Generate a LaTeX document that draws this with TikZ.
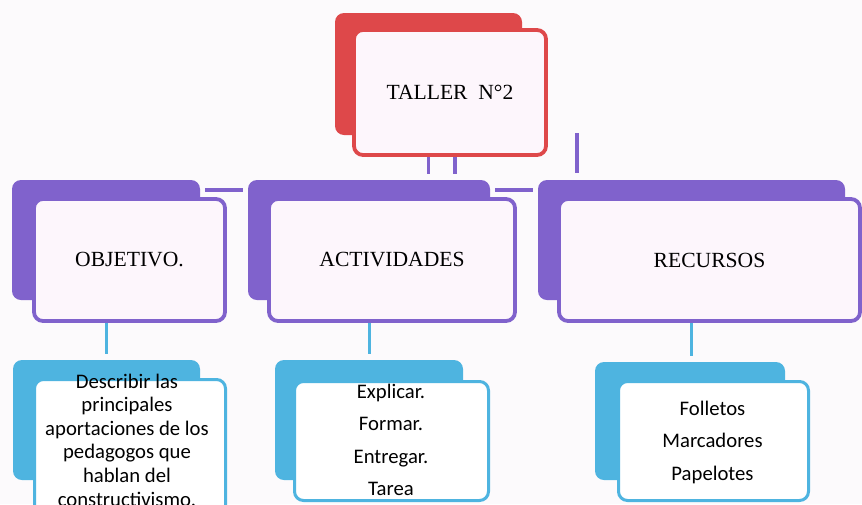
\documentclass[tikz,border=0pt]{standalone}
\usepackage{fontspec}
\setmainfont{Liberation Serif}
\newfontfamily\bodyfont{Carlito}
\definecolor{redc}{RGB}{222,72,74}
\definecolor{purc}{RGB}{128,98,204}
\definecolor{cyac}{RGB}{78,180,224}
\definecolor{frontc}{RGB}{253,246,252}
\definecolor{bgc}{RGB}{252,250,252}
\begin{document}
\begin{tikzpicture}[x=1pt,y=-1pt,
  backbox/.style={fill=#1, draw=none, rounded corners=9pt, inner sep=0pt},
  frontbox/.style={fill=frontc, draw=#1, line width=3.8pt, rounded corners=9pt, inner sep=0pt,
     font=\fontsize{21.6}{25}\selectfont},
  childbox/.style={fill=white, draw=cyac, line width=3pt, rounded corners=9pt, inner sep=0pt},
  childtext/.style={align=center, inner sep=0pt, font=\bodyfont\fontsize{20.7}{#1}\selectfont},
  purline/.style={draw=purc, line width=3.5pt},
  cyaline/.style={draw=cyac, line width=3pt}]
\useasboundingbox[fill=bgc] (0,0) rectangle (862,504);

% back boxes
\node[backbox=redc, minimum width=187pt, minimum height=122pt] (topback) at (428.5,74) {};
\node[backbox=purc, minimum width=188pt, minimum height=120pt] (objback) at (106,240) {};
\node[backbox=purc, minimum width=242pt, minimum height=120pt] (actback) at (369,240) {};
\node[backbox=purc, minimum width=307pt, minimum height=120pt] (recback) at (691.5,240) {};
\node[backbox=cyac, minimum width=187pt, minimum height=120pt] (ochback) at (106.5,420) {};
\node[backbox=cyac, minimum width=188pt, minimum height=120pt] (achback) at (369,420) {};
\node[backbox=cyac, minimum width=190pt, minimum height=118pt] (rchback) at (690,421) {};

% connectors
\coordinate (c1) at (455,174);
\coordinate (c1t) at (455,150);
\coordinate (c2t) at (577,133);
\coordinate (c2) at (577,173);
\draw[purline, shorten >=6pt] (topback.south) -- (topback.south |- actback.north);
\draw[purline] (c1t) -- (c1);
\draw[purline] (c2t) -- (c2);
\draw[purline, shorten <=5pt, shorten >=5pt] ([yshift=-10pt]objback.north east) -- ([yshift=-10pt]actback.north west);
\draw[purline, shorten <=5pt, shorten >=5pt] ([yshift=-10pt]actback.north east) -- ([yshift=-10pt]recback.north west);
\draw[cyaline, shorten >=6pt] (objback.south) -- (objback.south |- ochback.north);
\draw[cyaline, shorten >=6pt] (actback.south) -- (actback.south |- achback.north);
\draw[cyaline, shorten >=6pt] (recback.south) -- (recback.south |- rchback.north);

% front boxes
\node[frontbox=redc, minimum width=192pt, minimum height=125pt] (topfront) at (450,92.5) {TALLER\ \ N°2};
\node[frontbox=purc, minimum width=191pt, minimum height=122pt] (objfront) at (129.5,260) {OBJETIVO.};
\node[frontbox=purc, minimum width=246pt, minimum height=122pt] (actfront) at (392,260) {ACTIVIDADES};
\node[frontbox=purc, minimum width=301pt, minimum height=122pt] (recfront) at (709.5,260) {RECURSOS};
\node[childbox, minimum width=191pt, minimum height=137pt] (ochfront) at (130,448) {};
\node[childbox, minimum width=194pt, minimum height=119pt] (achfront) at (391.5,441) {};
\node[childbox, minimum width=190pt, minimum height=119pt] (rchfront) at (713.5,441) {};

% child texts
\node[childtext=23.6] (ochtext) at (127,440) {Describir las\\principales\\aportaciones de los\\pedagogos que\\hablan del\\constructivismo.};
\node[childtext=32.3] (achtext) at (391,440) {Explicar.\\Formar.\\Entregar.\\Tarea};
\node[childtext=32.5] (rchtext) at (712.5,442) {Folletos\\Marcadores\\Papelotes};
\end{tikzpicture}
\end{document}
